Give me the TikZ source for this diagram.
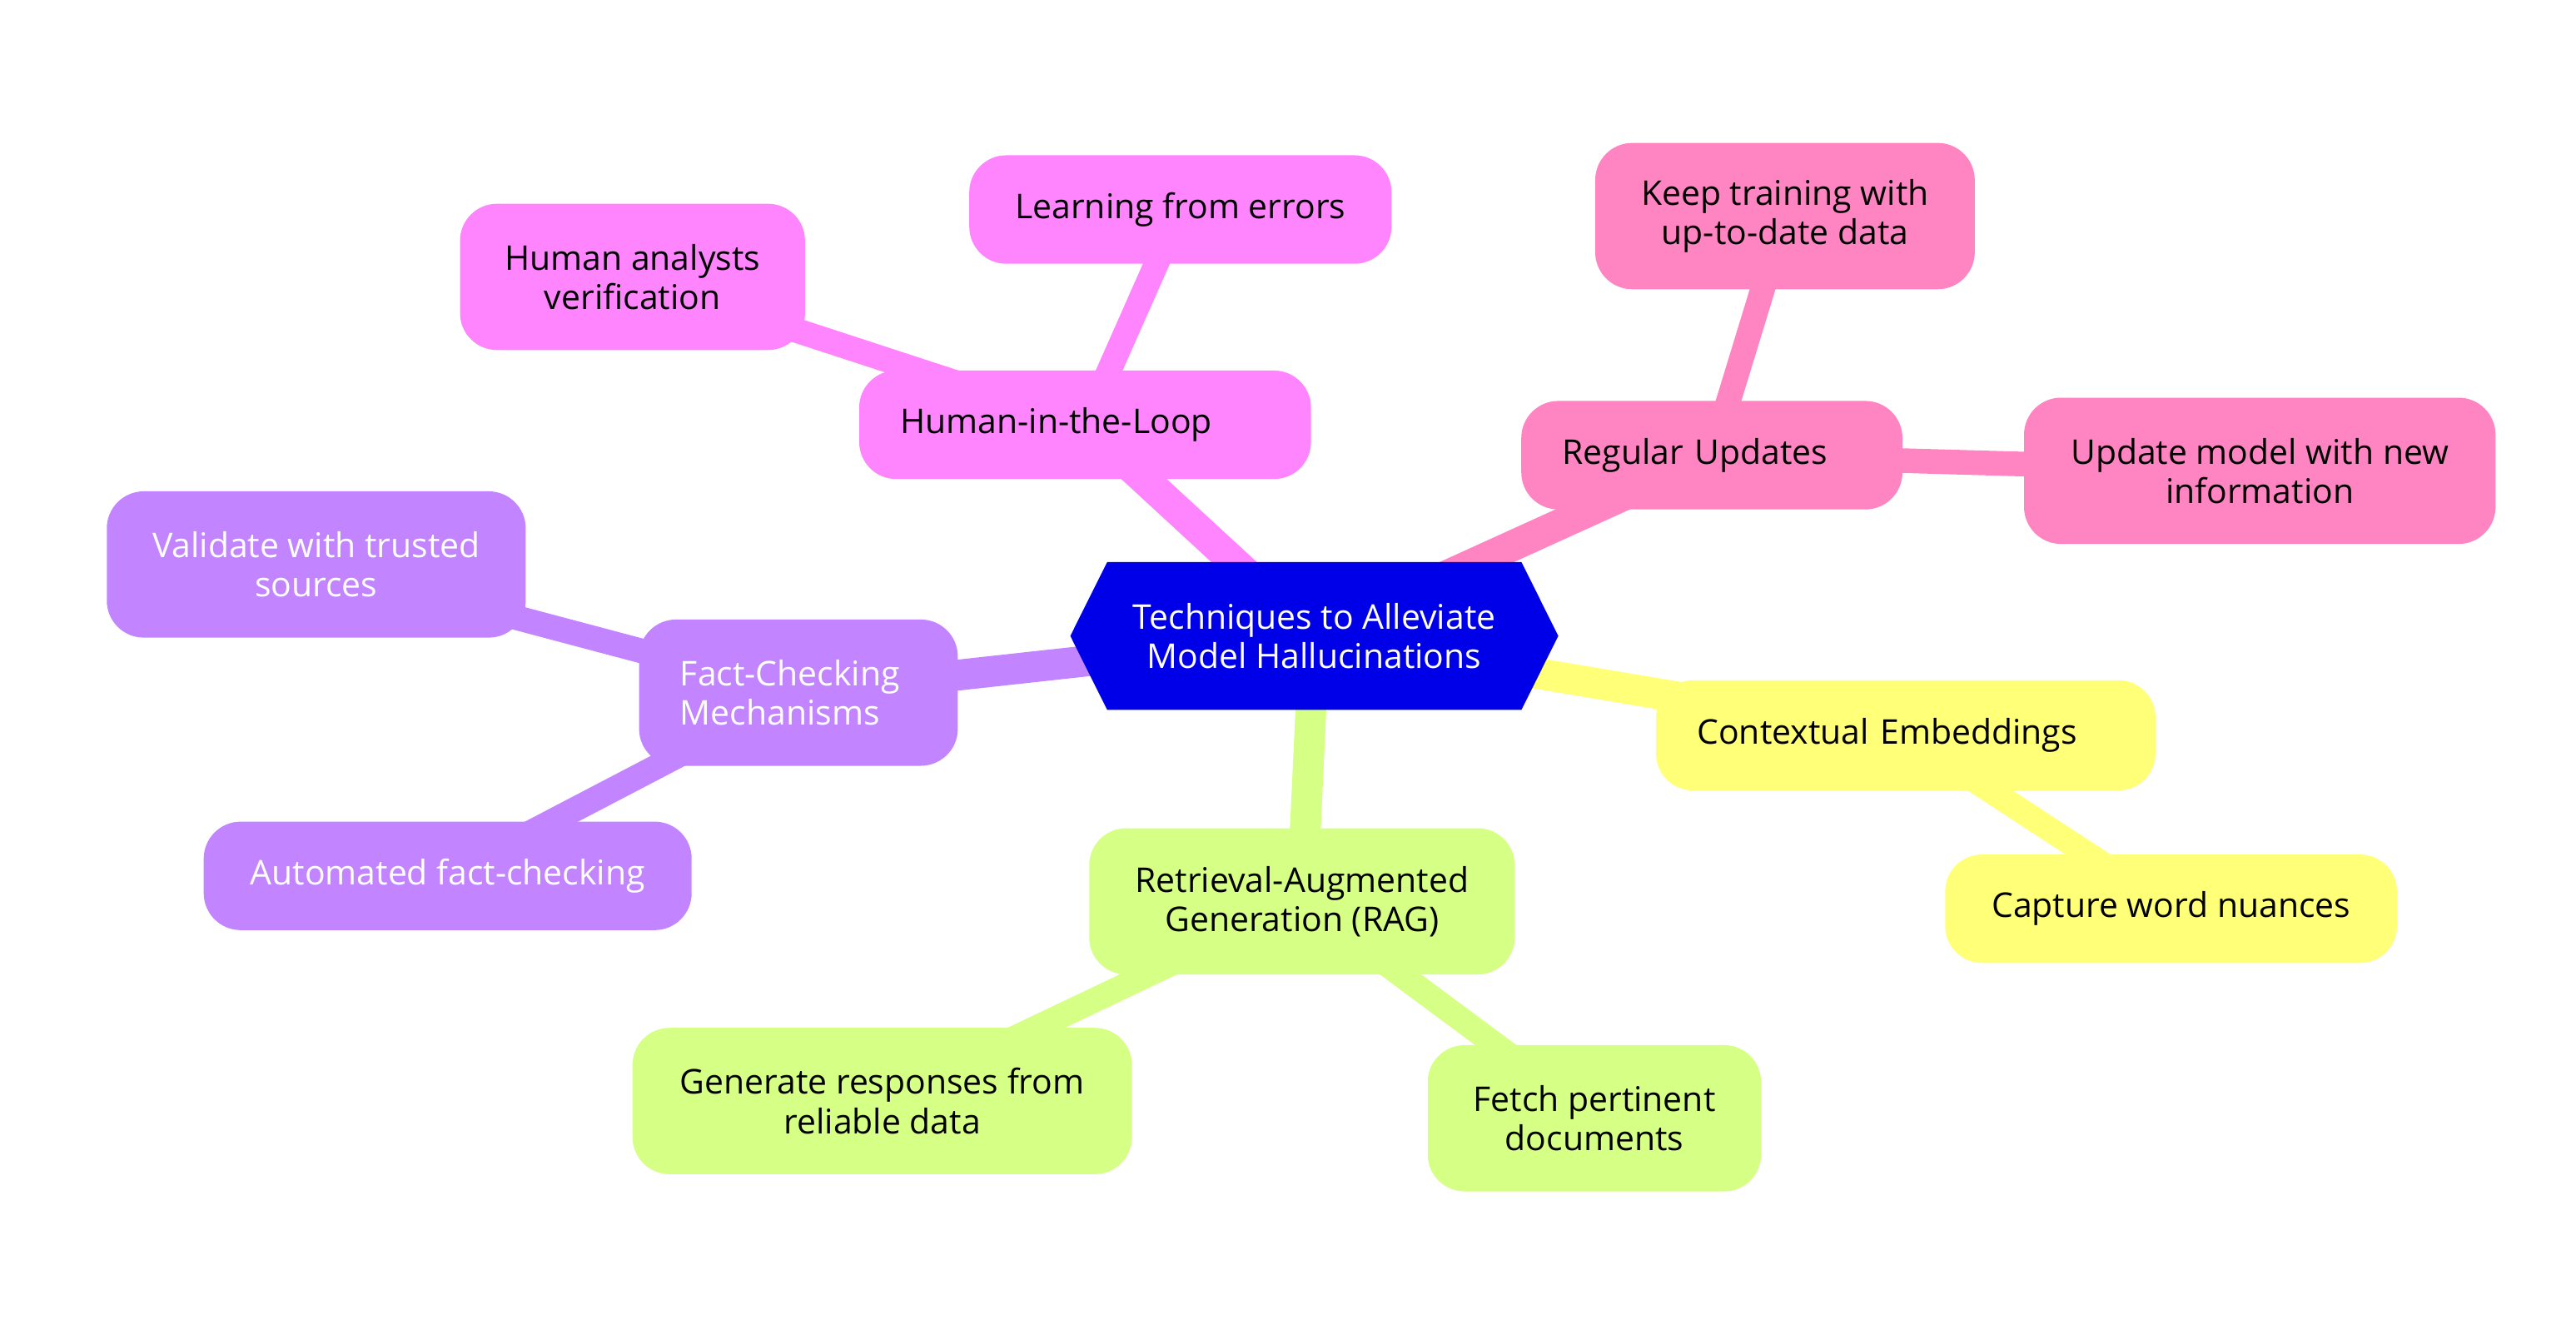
\documentclass[tikz,border=0pt]{standalone}
\usepackage{fontspec}
\setmainfont{Open Sans}
\usepackage{tikz}
\usetikzlibrary{shapes.symbols,backgrounds}
\definecolor{rootblue}{HTML}{0000E8}
\definecolor{cyellow}{HTML}{FFFF78}
\definecolor{cgreen}{HTML}{D6FF85}
\definecolor{cpurple}{HTML}{C285FF}
\definecolor{cmagenta}{HTML}{FF85FF}
\definecolor{cpink}{HTML}{FF85C2}
\tikzset{
    leafbox/.style={
        rounded corners=0.45cm,
        inner xsep=0.5cm,
        inner ysep=0pt,
        minimum height=1.32cm,
        align=center,
        font=\fontsize{11.8}{13.6}\selectfont
    },
    tallbox/.style={leafbox, minimum height=1.78cm},
    % links from the centre are a bit wider than the outer ones
    rootlink/.style={line width=0.375cm},
    leaflink/.style={line width=0.3cm}
}

\begin{document}
\begin{tikzpicture}
    \useasboundingbox (0,0) rectangle (31.36,-16.12);

    \node[signal, signal to=west and east, signal pointer angle=127, fill=rootblue, text=white,
          minimum width=5.94cm, minimum height=1.8cm, inner sep=0pt, align=center,
          font=\fontsize{11.8}{13.6}\selectfont] (root) at (16.0,-7.74) {Techniques to Alleviate\\Model Hallucinations};

    \node[leafbox, fill=cmagenta, text width=4.5cm, align=left] (hitl) at (13.21,-5.17) {Human-in-the-Loop};
    \node[leafbox, fill=cmagenta, minimum width=5.14cm] (learn) at (14.37,-2.55) {Learning from errors};
    \node[tallbox, fill=cmagenta, minimum width=4.2cm] (analysts) at (7.70,-3.37) {Human analysts\\verification};

    \node[leafbox, fill=cpink, text width=3.64cm, align=left] (updates) at (20.84,-5.54) {Regular Updates};
    \node[tallbox, fill=cpink, minimum width=4.62cm] (keep) at (21.73,-2.63) {Keep training with\\up-to-date data};
    \node[tallbox, fill=cpink, minimum width=5.74cm] (newinfo) at (27.51,-5.73) {Update model with new\\information};

    \node[tallbox, fill=cpurple, text=white, text width=2.88cm, align=left] (fact) at (9.72,-8.43) {Fact-Checking\\Mechanisms};
    \node[tallbox, fill=cpurple, text=white, minimum width=5.1cm] (trusted) at (3.85,-6.87) {Validate with trusted\\sources};
    \node[leafbox, fill=cpurple, text=white, minimum width=5.94cm] (auto) at (5.45,-10.66) {Automated fact-checking};

    \node[leafbox, fill=cyellow, text width=5.08cm, align=left, minimum height=1.34cm] (context) at (23.2,-8.95) {Contextual Embeddings};
    \node[leafbox, fill=cyellow, minimum width=5.5cm] (nuance) at (26.43,-11.06) {Capture word nuances};

    \node[tallbox, fill=cgreen, minimum width=5.18cm] (rag) at (15.85,-10.97) {Retrieval-Augmented\\Generation (RAG)};
    \node[tallbox, fill=cgreen, minimum width=6.08cm] (generate) at (10.74,-13.4) {Generate responses from\\reliable data};
    \node[tallbox, fill=cgreen, minimum width=4.06cm] (fetch) at (19.41,-13.61) {Fetch pertinent\\documents};

    \begin{scope}[on background layer]
        \draw[rootlink, cmagenta] (root.center) -- (hitl.center);
        \draw[leaflink, cmagenta] (hitl.center) -- (learn.center);
        \draw[leaflink, cmagenta] (hitl.center) -- (analysts.center);
        \draw[rootlink, cpink] (root.center) -- (updates.center);
        \draw[leaflink, cpink] (updates.center) -- (keep.center);
        \draw[leaflink, cpink] (updates.center) -- (newinfo.center);
        \draw[rootlink, cpurple] (root.center) -- (fact.center);
        \draw[leaflink, cpurple] (fact.center) -- (trusted.center);
        \draw[leaflink, cpurple] (fact.center) -- (auto.center);
        \draw[rootlink, cyellow] (root.center) -- (context.center);
        \draw[leaflink, cyellow] (context.center) -- (nuance.center);
        \draw[rootlink, cgreen] (root.center) -- (rag.center);
        \draw[leaflink, cgreen] (rag.center) -- (generate.center);
        \draw[leaflink, cgreen] (rag.center) -- (fetch.center);
    \end{scope}
\end{tikzpicture}
\end{document}
